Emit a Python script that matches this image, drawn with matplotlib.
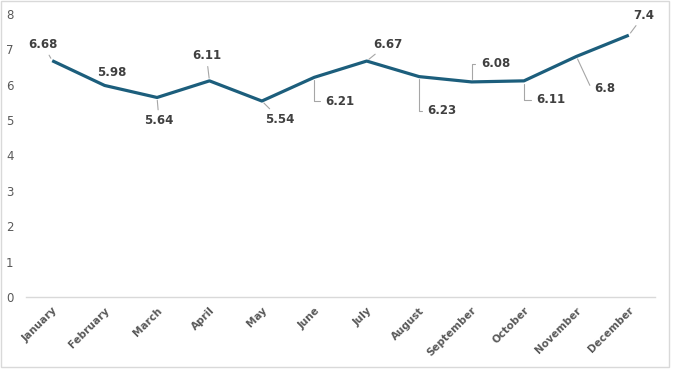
import matplotlib.pyplot as plt
from matplotlib.patches import Rectangle

months = ["January", "February", "March", "April", "May", "June",
          "July", "August", "September", "October", "November", "December"]
values = [6.68, 5.98, 5.64, 6.11, 5.54, 6.21, 6.67, 6.23, 6.08, 6.11, 6.8, 7.4]

# label placement (pixels from the point) and leader angle at the point
label_offsets = [(-9, 16), (7, 13), (2, -23), (-3, 25), (18, -18), (26, -24),
                 (21, 17), (23, -34), (24, 18), (27, -19), (28, -32), (15, 20)]
leaders = ["line", None, "line", "line", "line", 90,
           "line", 90, 90, 90, 115, "line"]

line_color = "#1c5e7c"

fig = plt.figure(figsize=(6.74, 3.74), dpi=100)
ax = fig.add_axes([26 / 674, 1 - 297 / 374, 629 / 674, (297 - 14) / 374])

x = range(len(months))
ax.plot(x, values, color=line_color, linewidth=2.3, solid_capstyle="butt", zorder=3)

for i, v in enumerate(values):
    dx, dy = label_offsets[i]
    style = leaders[i]
    arrow = None
    if style == "line":
        arrow = dict(arrowstyle="-", color="#a6a6a6", lw=0.8, shrinkA=1, shrinkB=2)
    elif style is not None:
        arrow = dict(arrowstyle="-", color="#a6a6a6", lw=0.8, shrinkA=2, shrinkB=2,
                     connectionstyle=f"angle,angleA=0,angleB={style},rad=0")
    ax.annotate(f"{v:g}", xy=(i, v), xytext=(dx, dy), textcoords="offset pixels",
                ha="center", va="center", fontsize=8.5, fontweight="bold",
                color="#404040", arrowprops=arrow, zorder=4)

ax.set_xlim(-0.5, len(months) - 0.5)
ax.set_ylim(0, 8)
ax.set_yticks(range(0, 9))
ax.set_xticks(list(x))
ax.set_xticklabels(months, rotation=45, ha="right", rotation_mode="anchor")

for s in ["top", "right", "left"]:
    ax.spines[s].set_visible(False)
ax.spines["bottom"].set_color("#d9d9d9")
ax.spines["bottom"].set_linewidth(1)
ax.tick_params(axis="both", length=0, colors="#595959", labelsize=8.5)
ax.tick_params(axis="x", pad=6)
ax.tick_params(axis="y", pad=9)
for lbl in ax.get_xticklabels():
    lbl.set_fontweight("semibold")
    lbl.set_fontsize(7.5)

# chart border
fig.patches.append(Rectangle((1 / 674, 7 / 374), 668 / 674, 366 / 374,
                             transform=fig.transFigure, fill=False,
                             edgecolor="#d9d9d9", linewidth=1))

fig.savefig("out.png", dpi=100)
